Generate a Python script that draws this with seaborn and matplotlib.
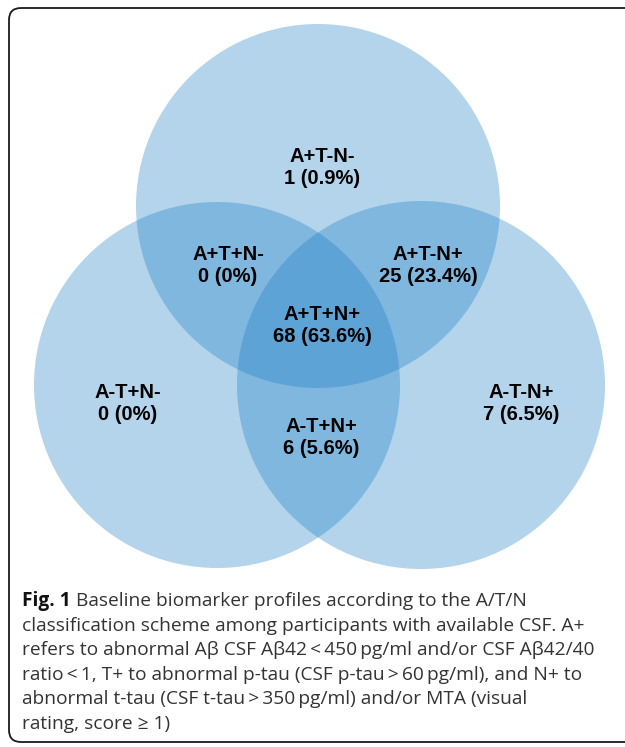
import matplotlib
matplotlib.use("Agg")
import matplotlib.pyplot as plt
from matplotlib.patches import Circle, FancyBboxPatch
import seaborn as sns

# ---------------- data ----------------
sets = ["A+", "T+", "N+"]
regions = ["A+T-N-", "A+T+N-", "A+T-N+", "A+T+N+", "A-T+N-", "A-T-N+", "A-T+N+"]
counts = [1, 0, 25, 68, 0, 7, 6]
percents = ["0.9", "0", "23.4", "63.6", "0", "6.5", "5.6"]
caption_bold = "Fig. 1"
caption_lines = [
    " Baseline biomarker profiles according to the A/T/N",
    "classification scheme among participants with available CSF. A+",
    "refers to abnormal A\u03b2 CSF A\u03b242\u2009<\u2009450\u2009pg/ml and/or CSF A\u03b242/40",
    "ratio\u2009<\u20091, T+ to abnormal p-tau (CSF p-tau\u2009>\u200960\u2009pg/ml), and N+ to",
    "abnormal t-tau (CSF t-tau\u2009>\u2009350\u2009pg/ml) and/or MTA (visual",
    "rating, score \u2265 1)",
]

# ---------------- layout (pixels) ----------------
circle_geom = {"A+": (318, 206, 182), "T+": (217, 385, 183), "N+": (421, 385, 184)}
label_pos = {
    "A+T-N-": (322, 167), "A+T+N-": (228, 266), "A+T-N+": (428, 266),
    "A+T+N+": (322, 325), "A-T+N-": (128, 403), "A-T-N+": (521, 403),
    "A-T+N+": (321, 438),
}

sns.set_theme(style="white")
plt.rcParams["font.family"] = ["Liberation Sans", "DejaVu Sans"]

W, H = 625, 747
fig = plt.figure(figsize=(W / 100, H / 100), dpi=100)
ax = fig.add_axes([0, 0, 1, 1])
ax.set_xlim(0, W)
ax.set_ylim(H, 0)
ax.axis("off")

base = (25 / 255, 125 / 255, 197 / 255)
for s in sets:
    cx, cy, r = circle_geom[s]
    ax.add_patch(Circle((cx, cy), r, facecolor=base, edgecolor="none", alpha=0.33))

for reg, n, p in zip(regions, counts, percents):
    x, y = label_pos[reg]
    ax.text(x, y, f"{reg}\n{n} ({p}%)", ha="center", va="center",
            fontsize=14.5, fontweight="bold", color="black", linespacing=1.2)

# border
ax.add_patch(FancyBboxPatch((9, 8), 660, 734, boxstyle="round,pad=0,rounding_size=12",
                            facecolor="none", edgecolor="#1a1a1a", linewidth=1.3))

# caption
cap_fam = ["Liberation Sans Narrow", "Open Sans", "DejaVu Sans"]
fig.canvas.draw()
renderer = fig.canvas.get_renderer()
fs = 13.8
x0 = 22
line_y = [601, 625.6, 650.2, 674.8, 699.4, 724]
tb = ax.text(x0, line_y[0], caption_bold, ha="left", va="center", fontsize=fs,
             fontweight="bold", color="#111111", family=cap_fam)
bb = tb.get_window_extent(renderer)
x1 = x0 + bb.width
for i, line in enumerate(caption_lines):
    xs = x1 if i == 0 else x0
    ax.text(xs, line_y[i], line, ha="left", va="center", fontsize=fs,
            color="#333333", family=cap_fam)

fig.savefig("out.png", dpi=100)
